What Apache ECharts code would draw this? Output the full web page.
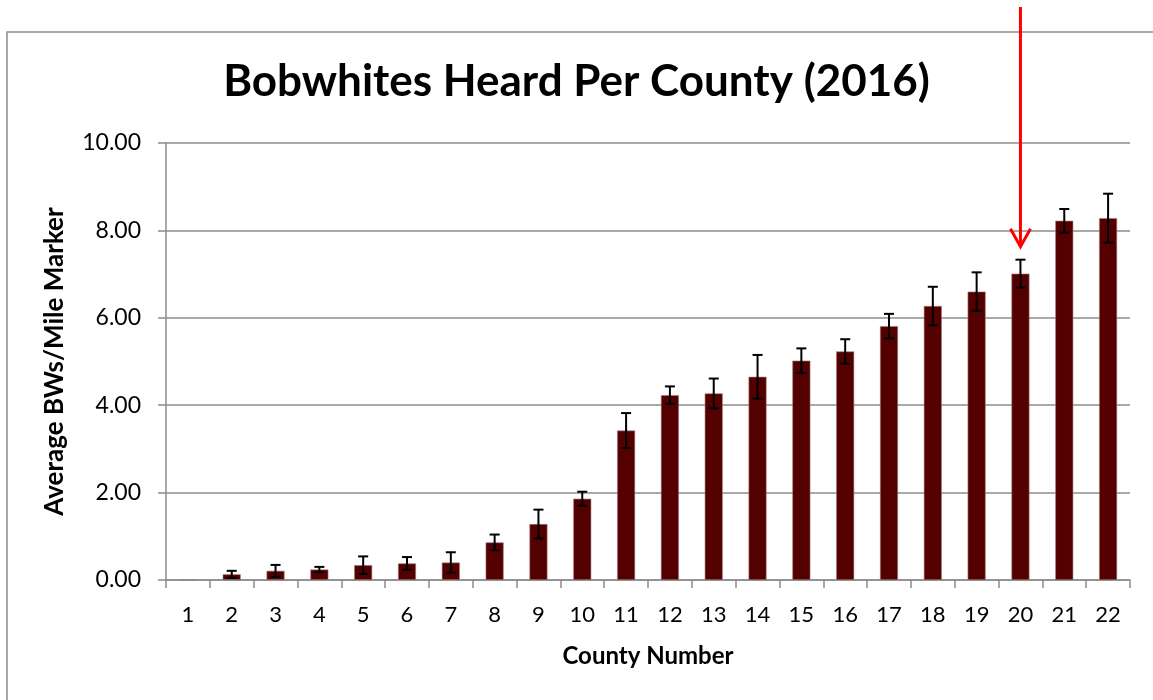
<!DOCTYPE html>
<html>
<head>
<meta charset="utf-8">
<script src="https://cdn.jsdelivr.net/npm/echarts@6/dist/echarts.min.js"></script>
<style>html,body{margin:0;padding:0;background:#fff}#c{width:1153px;height:700px}</style>
</head>
<body>
<div id="c"></div>
<script>
var categories = ['1','2','3','4','5','6','7','8','9','10','11','12','13','14','15','16','17','18','19','20','21','22'];
var means = [0.01,0.13,0.21,0.24,0.34,0.38,0.40,0.86,1.28,1.86,3.42,4.23,4.27,4.65,5.02,5.23,5.81,6.27,6.60,7.01,8.22,8.28];
var errors = [0,0.08,0.135,0.06,0.2,0.145,0.235,0.18,0.33,0.16,0.4,0.2,0.34,0.5,0.28,0.28,0.28,0.44,0.44,0.32,0.27,0.56];
var yTicks = [0,2,4,6,8,10];
var highlightCategory = '20';

var chart = echarts.init(document.getElementById('c'));
var font = 'Lato, "Open Sans", sans-serif';
var errData = categories.map(function(c,i){ return [i, means[i]-errors[i], means[i]+errors[i]]; });

chart.setOption({
  animation:false,
  title:{text:'Bobwhites Heard Per County (2016)', left:'center', top:55,
    textStyle:{fontFamily:font, fontWeight:'bold', fontSize:44, color:'#000'}},
  grid:{left:166, right:23, top:143, bottom:120},
  xAxis:{type:'category', data:categories,
    name:'County Number', nameLocation:'middle', nameGap:64,
    nameTextStyle:{fontFamily:font, fontWeight:'bold', fontSize:24, color:'#000'},
    axisLine:{lineStyle:{color:'#8c8c8c', width:1.5}},
    axisTick:{show:true, length:8, lineStyle:{color:'#8c8c8c', width:1.5}},
    axisLabel:{fontFamily:font, fontSize:22, color:'#000', margin:24}},
  yAxis:{type:'value', min:0, max:10, interval:2,
    name:'Average BWs/Mile Marker', nameLocation:'middle', nameGap:98, nameRotate:90,
    nameTextStyle:{fontFamily:font, fontWeight:'bold', fontSize:26, color:'#000'},
    axisLine:{show:true, lineStyle:{color:'#8c8c8c', width:1.5}},
    axisTick:{show:true, length:8, lineStyle:{color:'#8c8c8c', width:1.5}},
    splitLine:{lineStyle:{color:'#8c8c8c', width:1.5}},
    axisLabel:{fontFamily:font, fontSize:23, color:'#000', margin:25,
      formatter:function(v){ return yTicks.indexOf(v)>=0 ? v.toFixed(2) : ''; }}},
  series:[
    {type:'bar', data:means, barWidth:18,
      itemStyle:{color:'#550000', borderColor:'#a08080', borderWidth:0.6}},
    {type:'custom', data:errData, z:10,
      renderItem:function(params, api){
        var x = api.value(0);
        var lo = api.coord([x, api.value(1)]);
        var hi = api.coord([x, api.value(2)]);
        var hw = 5;
        var st = {stroke:'#000', lineWidth:2};
        if (Math.abs(hi[1]-lo[1]) < 0.5) return null;
        return {type:'group', children:[
          {type:'line', shape:{x1:lo[0], y1:lo[1], x2:hi[0], y2:hi[1]}, style:st},
          {type:'line', shape:{x1:hi[0]-hw, y1:hi[1], x2:hi[0]+hw, y2:hi[1]}, style:st},
          {type:'line', shape:{x1:lo[0]-hw, y1:lo[1], x2:lo[0]+hw, y2:lo[1]}, style:st}
        ]};
      }}
  ]
});

var idx = categories.indexOf(highlightCategory);
var tip = chart.convertToPixel({gridIndex:0}, [idx, means[idx]+errors[idx]]);
var ax = tip[0], ay = tip[1]-13;
chart.setOption({graphic:[
  {type:'rect', shape:{x:7, y:32, width:1300, height:800}, style:{fill:'none', stroke:'#8c8c8c', lineWidth:1.5}, z:-1},
  {type:'line', shape:{x1:ax, y1:7, x2:ax, y2:ay}, style:{stroke:'#ff0000', lineWidth:3}},
  {type:'polyline', shape:{points:[[ax-10, ay-18],[ax, ay],[ax+10, ay-18]]}, style:{stroke:'#ff0000', lineWidth:3, fill:'none'}}
]});
</script>
</body>
</html>
